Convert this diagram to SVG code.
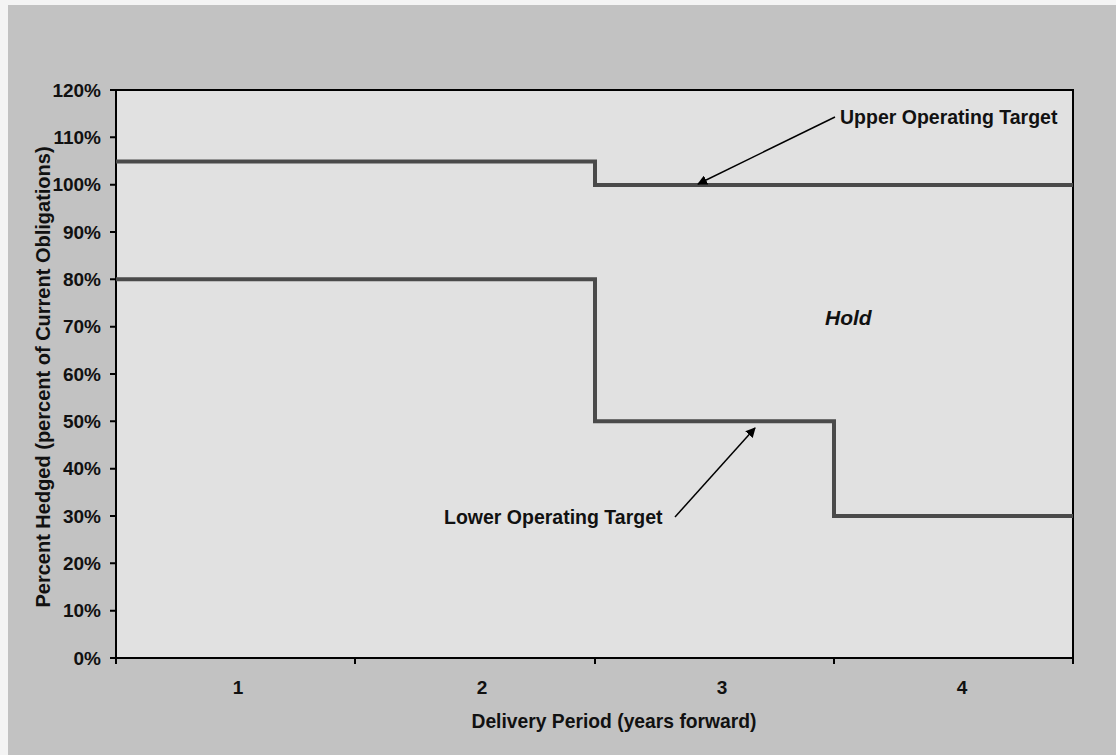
<svg xmlns="http://www.w3.org/2000/svg" width="1116" height="755" viewBox="0 0 1116 755">
<style>
.t{font-family:"Liberation Sans",Arial,sans-serif;font-weight:bold;fill:#111}
.yl{font-size:19px;text-anchor:end}
.xl{font-size:19px;text-anchor:middle}
.tgt{fill:none;stroke:#4a4a4a;stroke-width:4;stroke-linejoin:miter}
.ax{stroke:#000;stroke-width:2;fill:none}
</style>
<defs>
<marker id="ah" viewBox="0 0 10 10" refX="9" refY="5" markerWidth="10" markerHeight="10" markerUnits="userSpaceOnUse" orient="auto"><path d="M0,0 L10,5 L0,10 z" fill="#000"/></marker>
</defs>
<rect x="0" y="0" width="1116" height="755" fill="#f4f4f4"/>
<rect x="8" y="5" width="1108" height="750" fill="#c2c2c2"/>
<g id="plot">
<rect x="116" y="90" width="957" height="568" fill="#e1e1e1" stroke="#000" stroke-width="2"/>
</g>
<g id="yaxis">
<path class="ax" d="M116,90 V658 M110,90 H116 M110,137.3 H116 M110,184.7 H116 M110,232 H116 M110,279.3 H116 M110,326.7 H116 M110,374 H116 M110,421.3 H116 M110,468.7 H116 M110,516 H116 M110,563.3 H116 M110,610.7 H116 M110,658 H116"/>
<text class="t yl" x="101" y="97">120%</text>
<text class="t yl" x="101" y="144">110%</text>
<text class="t yl" x="101" y="191">100%</text>
<text class="t yl" x="101" y="239">90%</text>
<text class="t yl" x="101" y="286">80%</text>
<text class="t yl" x="101" y="333">70%</text>
<text class="t yl" x="101" y="381">60%</text>
<text class="t yl" x="101" y="428">50%</text>
<text class="t yl" x="101" y="475">40%</text>
<text class="t yl" x="101" y="523">30%</text>
<text class="t yl" x="101" y="570">20%</text>
<text class="t yl" x="101" y="617">10%</text>
<text class="t yl" x="101" y="665">0%</text>
<text class="t" font-size="20" text-anchor="middle" transform="translate(50,377) rotate(-90)">Percent Hedged (percent of Current Obligations)</text>
</g>
<g id="xaxis">
<path class="ax" d="M116,658 H1073 M116,658 V664 M355,658 V664 M595,658 V664 M834,658 V664 M1073,658 V664"/>
<text class="t xl" x="238" y="694">1</text>
<text class="t xl" x="482" y="694">2</text>
<text class="t xl" x="722" y="694">3</text>
<text class="t xl" x="962" y="694">4</text>
<text class="t" font-size="19.3" text-anchor="middle" x="614" y="728">Delivery Period (years forward)</text>
</g>
<g id="upper-target">
<path class="tgt" d="M116,161.5 H595 V185 H1073"/>
</g>
<g id="lower-target">
<path class="tgt" d="M116,279.3 H595 V421.3 H834 V516 H1073"/>
</g>
<g id="connectors">
<line x1="835" y1="117" x2="698" y2="184" stroke="#000" stroke-width="1.5" marker-end="url(#ah)"/>
<line x1="675" y1="517" x2="755" y2="428" stroke="#000" stroke-width="1.5" marker-end="url(#ah)"/>
</g>
<g id="label-upper">
<text class="t" font-size="19.5" x="840" y="124">Upper Operating Target</text>
</g>
<g id="label-lower">
<text class="t" font-size="19.5" x="444" y="524">Lower Operating Target</text>
</g>
<g id="label-hold">
<text class="t" font-size="21" font-style="italic" x="825" y="325">Hold</text>
</g>
</svg>
